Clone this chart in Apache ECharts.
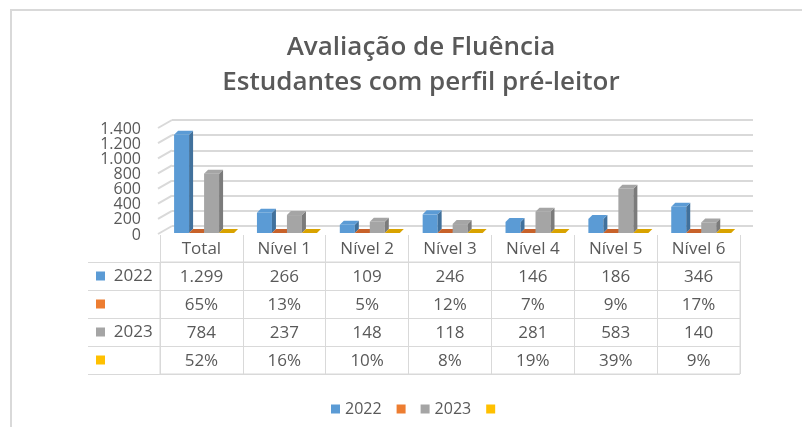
<!DOCTYPE html>
<html>
<head>
<meta charset="utf-8">
<script src="https://cdn.jsdelivr.net/npm/echarts@6/dist/echarts.min.js"></script>
<style>
html,body{margin:0;padding:0;background:#fff}
#main{width:802px;height:427px}
</style>
</head>
<body>
<div id="main"></div>
<script>
// dados
var categorias = ['Total', 'Nível 1', 'Nível 2', 'Nível 3', 'Nível 4', 'Nível 5', 'Nível 6'];
var alunos2022 = [1299, 266, 109, 246, 146, 186, 346];
var pct2022 = [65, 13, 5, 12, 7, 9, 17];
var alunos2023 = [784, 237, 148, 118, 281, 583, 140];
var pct2023 = [52, 16, 10, 8, 19, 39, 9];
var linhasTabela = ['2022', '', '2023', ''];
var yTicks = [0, 200, 400, 600, 800, 1000, 1200, 1400];

var cinzaTxt = '#595959';
var linha = '#d9d9d9';
var fonte = '"Open Sans", sans-serif';
var cores = ['#5B9BD5', '#ED7D31', '#A5A5A5', '#FFC000'];
var lados = ['#41719C', '#AE5A21', '#7B7B7B', '#BF9000'];
var topos = ['#5B9BD5', '#C8622A', '#A5A5A5', '#D9A300'];

function milhar(v){
    return String(v).replace(/\B(?=(\d{3})+(?!\d))/g, '.');
}
var tabela = [
    alunos2022.map(milhar),
    pct2022.map(function(v){ return v + '%'; }),
    alunos2023.map(milhar),
    pct2023.map(function(v){ return v + '%'; })
];

// barra com efeito 3d (frente, lado e topo)
function barra3d(slot){
    return function(params, api){
        var cat = api.value(0), val = api.value(1);
        var base = api.coord([cat, 0]);
        var alto = api.coord([cat, val]);
        var bw = api.size([1, 0])[0];
        var w = bw * 0.181, d = 4;
        var x0 = base[0] - bw * 0.33 + slot * w;
        var yb = base[1], yt = alto[1];
        return {type: 'group', children: [
            {type: 'rect', shape: {x: x0, y: yt, width: w, height: yb - yt}, style: {fill: cores[slot]}},
            {type: 'polygon', shape: {points: [[x0 + w, yt], [x0 + w + d, yt - d], [x0 + w + d, yb - d], [x0 + w, yb]]}, style: {fill: lados[slot]}},
            {type: 'polygon', shape: {points: [[x0, yt], [x0 + d, yt - d], [x0 + w + d, yt - d], [x0 + w, yt]]}, style: {fill: topos[slot]}}
        ]};
    };
}

function pares(arr, div){
    return arr.map(function(v, i){ return [i, v / (div || 1)]; });
}

var celulas = [];
for (var r = 0; r < linhasTabela.length; r++) {
    for (var c = 0; c < categorias.length; c++) {
        celulas.push([c, r]);
    }
}

var chart = echarts.init(document.getElementById('main'));
var option = {
    animation: false,
    backgroundColor: '#fff',
    title: {
        text: 'Avaliação de Fluência\nEstudantes com perfil pré-leitor',
        left: 416,
        top: 25,
        textAlign: 'center',
        textStyle: {fontFamily: fonte, fontSize: 26, fontWeight: 600, color: cinzaTxt, lineHeight: 35}
    },
    legend: {
        top: 396,
        left: 326,
        itemWidth: 9,
        itemHeight: 9,
        itemGap: 15,
        icon: 'rect',
        data: ['2022', '% 2022', '2023', '% 2023'],
        formatter: function(n){ return n.charAt(0) == '%' ? '' : n; },
        textStyle: {fontFamily: fonte, fontSize: 16, color: cinzaTxt}
    },
    graphic: [
        {type: 'line', shape: {x1: 10, y1: 10, x2: 802, y2: 10}, style: {stroke: linha, lineWidth: 2}},
        {type: 'line', shape: {x1: 11, y1: 10, x2: 11, y2: 427}, style: {stroke: linha, lineWidth: 2}}
    ],
    grid: [
        {left: 160, width: 580, top: 127, height: 106},
        {left: 160, width: 580, top: 262, height: 112, show: true, borderColor: linha, borderWidth: 1},
        {left: 172, width: 581, top: 120, height: 106}
    ],
    xAxis: [
        {type: 'category', gridIndex: 0, data: categorias, show: false},
        {type: 'category', gridIndex: 1, data: categorias, position: 'top',
            axisLine: {show: true, lineStyle: {color: linha}},
            axisTick: {show: true, length: 27, lineStyle: {color: linha}},
            axisLabel: {margin: 4, color: cinzaTxt, fontFamily: fonte, fontSize: 17},
            splitLine: {show: true, lineStyle: {color: linha}}},
        {type: 'category', gridIndex: 2, data: categorias, show: false}
    ],
    yAxis: [
        {type: 'value', gridIndex: 0, min: 0, max: 1400, interval: 200,
            axisLine: {show: false}, axisTick: {show: false}, splitLine: {show: false},
            axisLabel: {show: false}},
        {type: 'category', gridIndex: 1, data: linhasTabela, inverse: true,
            axisLine: {show: false},
            axisTick: {show: true, length: 72, lineStyle: {color: linha}},
            splitLine: {show: true, lineStyle: {color: linha}},
            axisLabel: {
                margin: 64, align: 'left', color: cinzaTxt, fontFamily: fonte, fontSize: 17,
                formatter: function(v, i){ return '{m' + i + '|}{t|  ' + v + '}'; },
                rich: {
                    t: {fontFamily: fonte, fontSize: 17, color: cinzaTxt, verticalAlign: 'middle'},
                    m0: {width: 9, height: 9, backgroundColor: cores[0], verticalAlign: 'middle'},
                    m1: {width: 9, height: 9, backgroundColor: cores[1], verticalAlign: 'middle'},
                    m2: {width: 9, height: 9, backgroundColor: cores[2], verticalAlign: 'middle'},
                    m3: {width: 9, height: 9, backgroundColor: cores[3], verticalAlign: 'middle'}
                }
            }},
        {type: 'category', gridIndex: 1, data: linhasTabela, offset: 72,
            axisLine: {show: true, lineStyle: {color: linha}},
            axisTick: {show: false}, axisLabel: {show: false}, splitLine: {show: false}},
        {type: 'value', gridIndex: 2, min: 0, max: 1400, interval: 200,
            axisLine: {show: false}, axisTick: {show: false}, axisLabel: {show: false},
            splitLine: {show: true, lineStyle: {color: linha, width: 2}}}
    ],
    series: [
        {type: 'custom', name: 'diagonais', xAxisIndex: 2, yAxisIndex: 3, silent: true,
            data: yTicks.map(function(v){ return [0, v]; }),
            encode: {x: 0, y: 1},
            renderItem: function(params, api){
                var p = api.coord([0, api.value(1)]);
                var x = params.coordSys.x;
                return {type: 'line', shape: {x1: x, y1: p[1], x2: x - 14, y2: p[1] + 8},
                    style: {stroke: linha, lineWidth: 2}};
            }},
        // rotulos do eixo y (o eixo esconde rotulos sobrepostos)
        {type: 'custom', name: 'rotulosY', xAxisIndex: 0, yAxisIndex: 0, silent: true,
            data: yTicks.map(function(v){ return [0, v]; }),
            encode: {x: 0, y: 1},
            renderItem: function(params, api){
                var v = api.value(1);
                var p = api.coord([0, v]);
                return {type: 'text', style: {text: milhar(v), x: params.coordSys.x - 19, y: p[1] + 2,
                    align: 'right', verticalAlign: 'middle', fill: cinzaTxt, font: '16px ' + fonte}};
            }},
        {type: 'custom', name: '2022', xAxisIndex: 0, yAxisIndex: 0, itemStyle: {color: cores[0]},
            data: pares(alunos2022), encode: {x: 0, y: 1}, renderItem: barra3d(0)},
        {type: 'custom', name: '% 2022', xAxisIndex: 0, yAxisIndex: 0, itemStyle: {color: cores[1]},
            data: pares(pct2022, 100), encode: {x: 0, y: 1}, renderItem: barra3d(1)},
        {type: 'custom', name: '2023', xAxisIndex: 0, yAxisIndex: 0, itemStyle: {color: cores[2]},
            data: pares(alunos2023), encode: {x: 0, y: 1}, renderItem: barra3d(2)},
        {type: 'custom', name: '% 2023', xAxisIndex: 0, yAxisIndex: 0, itemStyle: {color: cores[3]},
            data: pares(pct2023, 100), encode: {x: 0, y: 1}, renderItem: barra3d(3)},
        {type: 'custom', name: 'tabela', xAxisIndex: 1, yAxisIndex: 1, silent: true,
            data: celulas, encode: {x: 0, y: 1},
            renderItem: function(params, api){
                var c = api.value(0), r = api.value(1);
                var p = api.coord([c, r]);
                return {type: 'text', style: {text: tabela[r][c], x: p[0], y: p[1] + 1,
                    align: 'center', verticalAlign: 'middle',
                    fill: cinzaTxt, font: '17px ' + fonte}};
            }}
    ]
};
chart.setOption(option);
</script>
</body>
</html>
